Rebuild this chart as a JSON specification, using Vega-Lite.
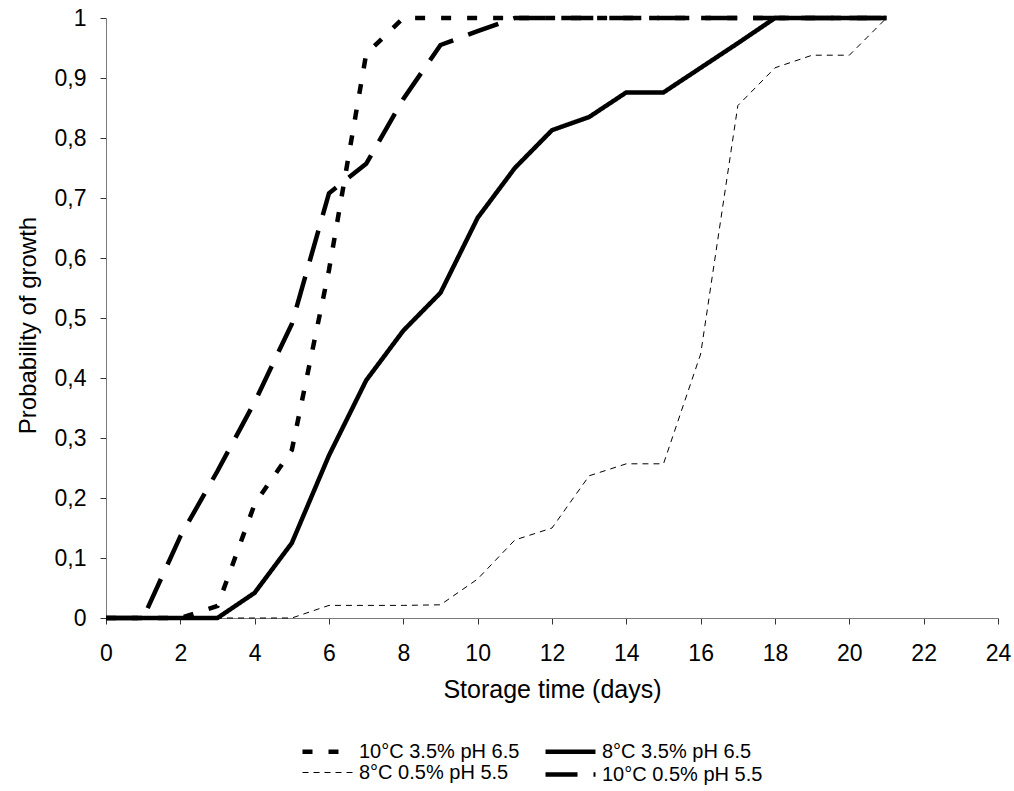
{
  "$schema": "https://vega.github.io/schema/vega-lite/v6.json",
  "width": 892,
  "height": 600,
  "autosize": {"type": "none"},
  "padding": {"left": 106, "top": 18, "right": 16, "bottom": 173},
  "background": "white",
  "config": {
    "view": {"stroke": null},
    "font": "Liberation Sans",
    "axis": {"grid": false, "labelFont": "Liberation Sans", "titleFont": "Liberation Sans", "labelColor": "black", "titleColor": "black", "titleFontWeight": "normal", "domainColor": "#7a7a7a", "tickColor": "#333333", "tickSize": 6, "labelFontSize": 23, "titleFontSize": 24},
    "legend": {"labelFont": "Liberation Sans", "labelFontSize": 20, "labelColor": "black"}
  },
  "data": {
    "values": [
      {"series": "10°C 3.5% pH 6.5", "day": 0, "p": 0},
      {"series": "10°C 3.5% pH 6.5", "day": 1, "p": 0},
      {"series": "10°C 3.5% pH 6.5", "day": 2, "p": 0},
      {"series": "10°C 3.5% pH 6.5", "day": 3, "p": 0.02},
      {"series": "10°C 3.5% pH 6.5", "day": 4, "p": 0.19},
      {"series": "10°C 3.5% pH 6.5", "day": 5, "p": 0.28},
      {"series": "10°C 3.5% pH 6.5", "day": 6, "p": 0.58},
      {"series": "10°C 3.5% pH 6.5", "day": 7, "p": 0.94},
      {"series": "10°C 3.5% pH 6.5", "day": 8, "p": 1},
      {"series": "10°C 3.5% pH 6.5", "day": 9, "p": 1},
      {"series": "10°C 3.5% pH 6.5", "day": 10, "p": 1},
      {"series": "10°C 3.5% pH 6.5", "day": 11, "p": 1},
      {"series": "10°C 3.5% pH 6.5", "day": 12, "p": 1},
      {"series": "10°C 3.5% pH 6.5", "day": 13, "p": 1},
      {"series": "10°C 3.5% pH 6.5", "day": 14, "p": 1},
      {"series": "10°C 3.5% pH 6.5", "day": 15, "p": 1},
      {"series": "10°C 3.5% pH 6.5", "day": 16, "p": 1},
      {"series": "10°C 3.5% pH 6.5", "day": 17, "p": 1},
      {"series": "10°C 3.5% pH 6.5", "day": 18, "p": 1},
      {"series": "10°C 3.5% pH 6.5", "day": 19, "p": 1},
      {"series": "10°C 3.5% pH 6.5", "day": 20, "p": 1},
      {"series": "10°C 3.5% pH 6.5", "day": 21, "p": 1},
      {"series": "8°C 3.5% pH 6.5", "day": 0, "p": 0},
      {"series": "8°C 3.5% pH 6.5", "day": 1, "p": 0},
      {"series": "8°C 3.5% pH 6.5", "day": 2, "p": 0},
      {"series": "8°C 3.5% pH 6.5", "day": 3, "p": 0},
      {"series": "8°C 3.5% pH 6.5", "day": 4, "p": 0.042},
      {"series": "8°C 3.5% pH 6.5", "day": 5, "p": 0.125},
      {"series": "8°C 3.5% pH 6.5", "day": 6, "p": 0.271},
      {"series": "8°C 3.5% pH 6.5", "day": 7, "p": 0.396},
      {"series": "8°C 3.5% pH 6.5", "day": 8, "p": 0.479},
      {"series": "8°C 3.5% pH 6.5", "day": 9, "p": 0.542},
      {"series": "8°C 3.5% pH 6.5", "day": 10, "p": 0.667},
      {"series": "8°C 3.5% pH 6.5", "day": 11, "p": 0.75},
      {"series": "8°C 3.5% pH 6.5", "day": 12, "p": 0.813},
      {"series": "8°C 3.5% pH 6.5", "day": 13, "p": 0.835},
      {"series": "8°C 3.5% pH 6.5", "day": 14, "p": 0.876},
      {"series": "8°C 3.5% pH 6.5", "day": 15, "p": 0.876},
      {"series": "8°C 3.5% pH 6.5", "day": 16, "p": 0.917},
      {"series": "8°C 3.5% pH 6.5", "day": 17, "p": 0.958},
      {"series": "8°C 3.5% pH 6.5", "day": 18, "p": 1},
      {"series": "8°C 3.5% pH 6.5", "day": 19, "p": 1},
      {"series": "8°C 3.5% pH 6.5", "day": 20, "p": 1},
      {"series": "8°C 3.5% pH 6.5", "day": 21, "p": 1},
      {"series": "8°C 0.5% pH 5.5", "day": 0, "p": 0},
      {"series": "8°C 0.5% pH 5.5", "day": 1, "p": 0},
      {"series": "8°C 0.5% pH 5.5", "day": 2, "p": 0},
      {"series": "8°C 0.5% pH 5.5", "day": 3, "p": 0},
      {"series": "8°C 0.5% pH 5.5", "day": 4, "p": 0},
      {"series": "8°C 0.5% pH 5.5", "day": 5, "p": 0},
      {"series": "8°C 0.5% pH 5.5", "day": 6, "p": 0.021},
      {"series": "8°C 0.5% pH 5.5", "day": 7, "p": 0.021},
      {"series": "8°C 0.5% pH 5.5", "day": 8, "p": 0.021},
      {"series": "8°C 0.5% pH 5.5", "day": 9, "p": 0.022},
      {"series": "8°C 0.5% pH 5.5", "day": 10, "p": 0.065},
      {"series": "8°C 0.5% pH 5.5", "day": 11, "p": 0.13},
      {"series": "8°C 0.5% pH 5.5", "day": 12, "p": 0.15},
      {"series": "8°C 0.5% pH 5.5", "day": 13, "p": 0.237},
      {"series": "8°C 0.5% pH 5.5", "day": 14, "p": 0.257},
      {"series": "8°C 0.5% pH 5.5", "day": 15, "p": 0.257},
      {"series": "8°C 0.5% pH 5.5", "day": 16, "p": 0.44},
      {"series": "8°C 0.5% pH 5.5", "day": 17, "p": 0.854},
      {"series": "8°C 0.5% pH 5.5", "day": 18, "p": 0.917},
      {"series": "8°C 0.5% pH 5.5", "day": 19, "p": 0.938},
      {"series": "8°C 0.5% pH 5.5", "day": 20, "p": 0.938},
      {"series": "8°C 0.5% pH 5.5", "day": 21, "p": 1},
      {"series": "10°C 0.5% pH 5.5", "day": 0, "p": 0},
      {"series": "10°C 0.5% pH 5.5", "day": 1, "p": 0},
      {"series": "10°C 0.5% pH 5.5", "day": 2, "p": 0.136},
      {"series": "10°C 0.5% pH 5.5", "day": 3, "p": 0.245},
      {"series": "10°C 0.5% pH 5.5", "day": 4, "p": 0.36},
      {"series": "10°C 0.5% pH 5.5", "day": 5, "p": 0.49},
      {"series": "10°C 0.5% pH 5.5", "day": 6, "p": 0.708},
      {"series": "10°C 0.5% pH 5.5", "day": 7, "p": 0.757},
      {"series": "10°C 0.5% pH 5.5", "day": 8, "p": 0.865},
      {"series": "10°C 0.5% pH 5.5", "day": 9, "p": 0.955},
      {"series": "10°C 0.5% pH 5.5", "day": 10, "p": 0.978},
      {"series": "10°C 0.5% pH 5.5", "day": 11, "p": 1},
      {"series": "10°C 0.5% pH 5.5", "day": 12, "p": 1},
      {"series": "10°C 0.5% pH 5.5", "day": 13, "p": 1},
      {"series": "10°C 0.5% pH 5.5", "day": 14, "p": 1},
      {"series": "10°C 0.5% pH 5.5", "day": 15, "p": 1},
      {"series": "10°C 0.5% pH 5.5", "day": 16, "p": 1},
      {"series": "10°C 0.5% pH 5.5", "day": 17, "p": 1},
      {"series": "10°C 0.5% pH 5.5", "day": 18, "p": 1},
      {"series": "10°C 0.5% pH 5.5", "day": 19, "p": 1},
      {"series": "10°C 0.5% pH 5.5", "day": 20, "p": 1},
      {"series": "10°C 0.5% pH 5.5", "day": 21, "p": 1}
    ]
  },
  "mark": {"type": "line", "color": "black", "strokeCap": "butt", "strokeJoin": "miter"},
  "encoding": {
    "x": {
      "field": "day", "type": "quantitative",
      "scale": {"domain": [0, 24], "nice": false, "zero": false},
      "axis": {"values": [0, 2, 4, 6, 8, 10, 12, 14, 16, 18, 20, 22, 24], "title": "Storage time (days)", "labelPadding": 18, "titlePadding": 12, "titleFontSize": 25, "labelFlush": false}
    },
    "y": {
      "field": "p", "type": "quantitative",
      "scale": {"domain": [0, 1], "nice": false},
      "axis": {"values": [0, 0.1, 0.2, 0.3, 0.4, 0.5, 0.6, 0.7, 0.8, 0.9, 1], "format": ".1~f", "labelExpr": "replace(datum.label, '.', ',')", "title": "Probability of growth", "labelPadding": 14, "titlePadding": 14, "titleY": 307, "labelFlush": false}
    },
    "detail": {"field": "series", "type": "nominal"},
    "strokeDash": {
      "field": "series", "type": "nominal",
      "scale": {"domain": ["10°C 3.5% pH 6.5", "8°C 0.5% pH 5.5", "8°C 3.5% pH 6.5", "10°C 0.5% pH 5.5"], "range": [[10, 16], [6, 5], [1, 0], [32, 16]]},
      "legend": {"title": null, "orient": "none", "legendX": 209, "legendY": 721, "columns": 2, "columnPadding": 16, "rowPadding": 0, "symbolType": "M-2.5,0H2.5", "symbolSize": 400, "symbolStrokeColor": "black", "symbolFillColor": "transparent", "labelOffset": 19, "labelLimit": 400}
    },
    "strokeWidth": {
      "field": "series", "type": "nominal",
      "scale": {"type": "ordinal", "domain": ["10°C 3.5% pH 6.5", "8°C 0.5% pH 5.5", "8°C 3.5% pH 6.5", "10°C 0.5% pH 5.5"], "range": [4.5, 1, 4.5, 4.5]},
      "legend": {"title": null, "orient": "none", "legendX": 209, "legendY": 721, "columns": 2, "columnPadding": 16, "rowPadding": 0, "symbolType": "M-2.5,0H2.5", "symbolSize": 400, "symbolStrokeColor": "black", "symbolFillColor": "transparent", "labelOffset": 19, "labelLimit": 400}
    }
  }
}
